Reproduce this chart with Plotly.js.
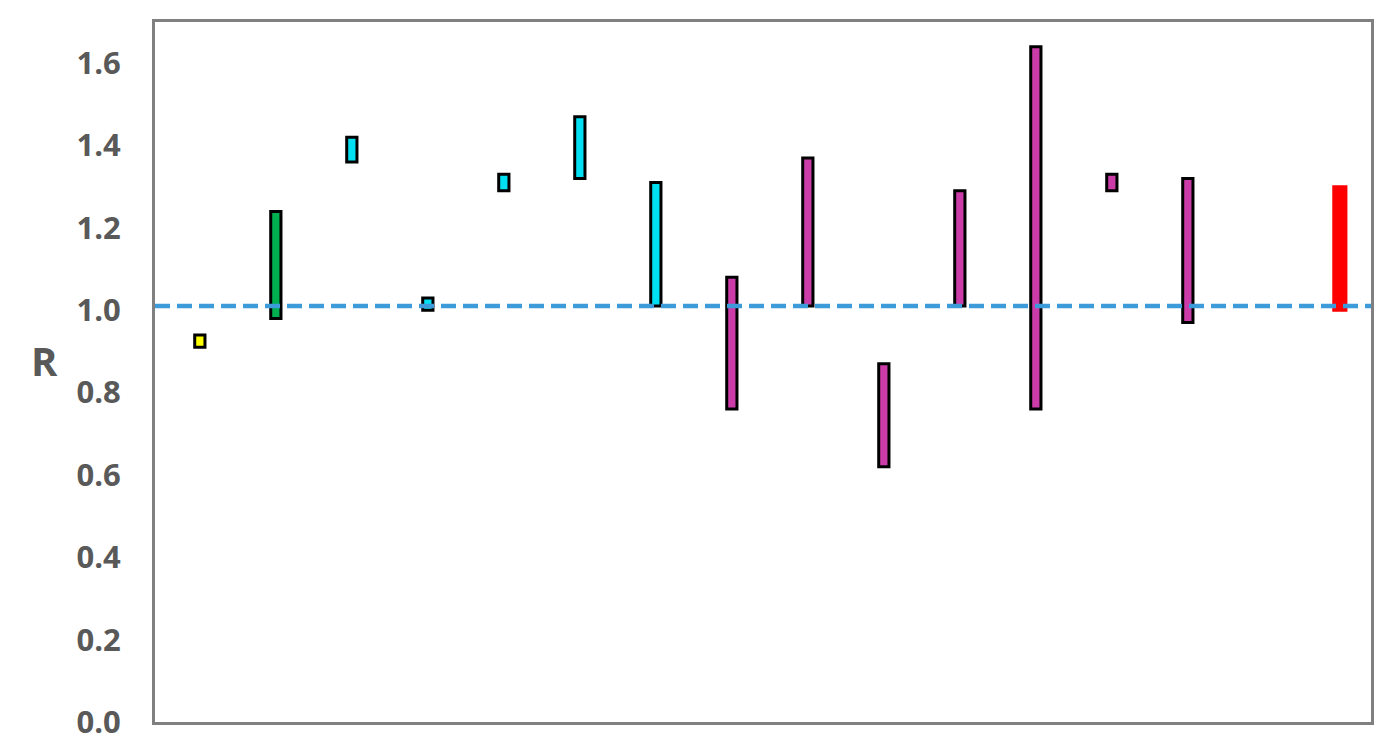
<!DOCTYPE html>
<html>
<head>
<meta charset="utf-8">
<script src="https://cdn.plot.ly/plotly-3.0.1.min.js"></script>
<style>
  html, body { margin: 0; padding: 0; background: #fff; }
  #chart { width: 1398px; height: 752px; }
</style>
</head>
<body>
<div id="chart"></div>
<script>
// slot index of each range (slot 14 is empty in the original)
const positions = [0, 1, 2, 3, 4, 5, 6, 7, 8, 9, 10, 11, 12, 13, 15];
const lows  = [0.91, 0.98, 1.36, 1.00, 1.29, 1.32, 1.01, 0.76, 1.01, 0.62, 1.01, 0.76, 1.29, 0.97, 1.00];
const highs = [0.94, 1.24, 1.42, 1.03, 1.33, 1.47, 1.31, 1.08, 1.37, 0.87, 1.29, 1.64, 1.33, 1.32, 1.30];
const groups = ['yellow', 'green', 'cyan', 'cyan', 'cyan', 'cyan', 'cyan',
                'magenta', 'magenta', 'magenta', 'magenta', 'magenta', 'magenta', 'magenta', 'red'];
const referenceR = 1.01;
const yTicks = [0, 0.2, 0.4, 0.6, 0.8, 1.0, 1.2, 1.4, 1.6];

const groupColors = {
    yellow: '#FFFF00',
    green: '#00B050',
    cyan: '#00E0F2',
    magenta: '#CC3CA8',
    red: '#FF0000'
};

const fills = groups.map(g => groupColors[g]);
const outlines = groups.map(g => g === 'red' ? groupColors.red : '#000000');
const spans = highs.map((h, i) => h - lows[i]);

const data = [{
    type: 'bar',
    x: positions,
    y: spans,
    base: lows,
    width: groups.map(g => g === 'red' ? 0.16 : 0.135),
    marker: {
        color: fills,
        line: { color: outlines, width: 3 }
    },
    hoverinfo: 'skip',
    showlegend: false
}];

const layout = {
    width: 1398,
    height: 752,
    margin: { l: 155, r: 27, t: 22, b: 30 },
    paper_bgcolor: '#ffffff',
    plot_bgcolor: '#ffffff',
    font: { family: 'Open Sans, Liberation Sans, sans-serif', color: '#595959' },
    xaxis: {
        range: [-0.59, 15.41],
        showticklabels: false,
        ticks: '',
        showgrid: false,
        zeroline: false,
        showline: true,
        mirror: true,
        linecolor: '#808080',
        linewidth: 3
    },
    yaxis: {
        range: [0, 1.7],
        tickvals: yTicks,
        ticktext: yTicks.map(v => v.toFixed(1)),
        ticks: '',
        ticklabelstandoff: 25,
        tickfont: { size: 31, family: 'Open Sans, Liberation Sans, sans-serif', color: '#595959', weight: 'bold' },
        showgrid: false,
        zeroline: false,
        showline: true,
        mirror: true,
        linecolor: '#808080',
        linewidth: 3
    },
    shapes: [{
        type: 'line',
        xref: 'paper',
        x0: 0,
        x1: 1,
        yref: 'y',
        y0: referenceR,
        y1: referenceR,
        line: { color: '#3E9BDA', width: 4.5, dash: '15px,7px' }
    }],
    annotations: [{
        text: 'R',
        xref: 'paper',
        yref: 'paper',
        x: -0.0905,
        y: 0.517,
        xanchor: 'center',
        yanchor: 'middle',
        showarrow: false,
        font: { size: 40, family: 'Open Sans, Liberation Sans, sans-serif', color: '#595959', weight: 'bold' }
    }],
    bargap: 0
};

Plotly.newPlot('chart', data, layout, { displayModeBar: false, staticPlot: true });
</script>
</body>
</html>
